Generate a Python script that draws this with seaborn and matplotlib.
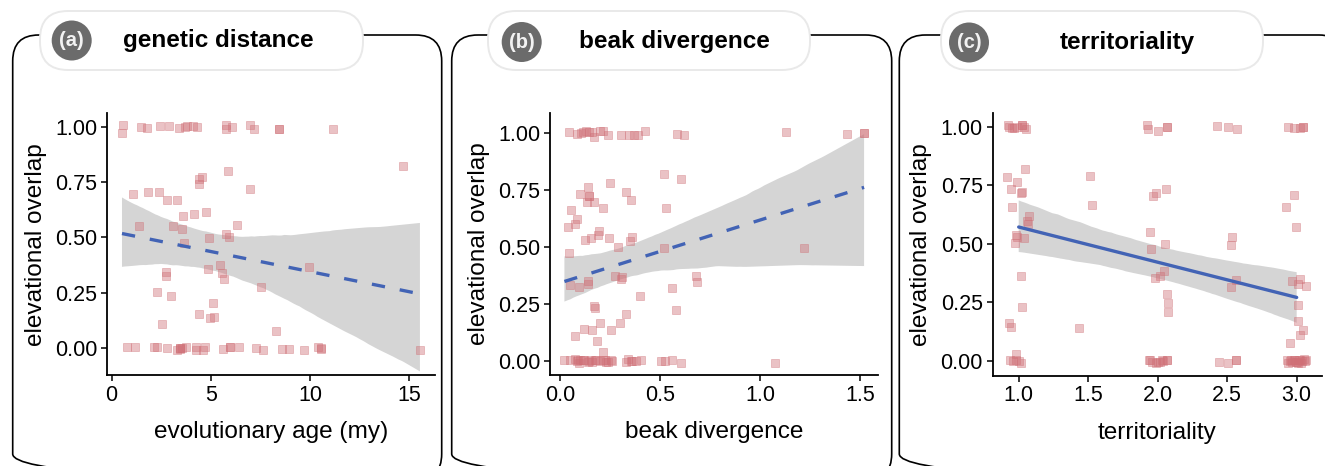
import numpy as np
import pandas as pd
import matplotlib
matplotlib.use("Agg")
import matplotlib.pyplot as plt
import seaborn as sns
from matplotlib.patches import FancyBboxPatch, Circle
from matplotlib.collections import PolyCollection

# ---------------- data ----------------
age_a = [0.55, 0.52, 1.48, 1.76, 2.43, 2.90, 3.39, 3.69, 3.81, 4.11, 4.30, 5.74, 5.74, 6.05, 6.97, 7.19, 8.43, 8.43, 11.17,
         14.68, 5.88, 4.57, 4.40, 4.40, 6.99, 1.07, 1.81, 2.40, 2.79, 3.29, 4.74, 4.15, 3.61, 1.39, 3.11, 3.54, 6.33, 5.74, 5.91,
         4.89, 3.66, 9.96, 5.46, 5.56, 5.66, 4.84, 2.72, 2.72, 7.52, 2.27, 2.99, 5.12, 4.42, 4.95, 5.14, 2.55, 8.30,
         0.77, 1.19, 2.15, 2.30, 2.79, 3.31, 3.44, 3.44, 3.44, 3.56, 3.74, 4.23, 4.23, 4.62, 4.69, 5.63, 5.98, 5.98, 6.43, 7.25,
         7.61, 8.60, 8.92, 9.71, 10.41, 10.55, 10.55, 15.53]
overlap_a = [1.006, 0.971, 1.0, 0.995, 1.003, 1.003, 0.992, 0.998, 1.003, 1.004, 0.998, 1.006, 0.988, 0.998, 1.006, 0.991, 0.989, 0.989, 0.989,
             0.824, 0.80, 0.773, 0.764, 0.74, 0.72, 0.694, 0.703, 0.707, 0.67, 0.67, 0.617, 0.607, 0.595, 0.551, 0.554, 0.538, 0.556, 0.515, 0.503,
             0.497, 0.474, 0.366, 0.375, 0.339, 0.311, 0.356, 0.344, 0.326, 0.279, 0.255, 0.236, 0.206, 0.153, 0.137, 0.141, 0.111, 0.08,
             0.008, 0.008, 0.008, 0.005, 0.003, -0.006, 0.0, 0.003, -0.004, 0.003, 0.008, 0.008, -0.009, -0.009, 0.008, -0.002, 0.008, 0.006, 0.006, 0.002,
             -0.009, -0.002, -0.005, -0.008, 0.005, -0.003, 0.0, -0.006]

beak_b = [0.044, 0.084, 0.104, 0.117, 0.129, 0.147, 0.159, 0.171, 0.201, 0.214, 0.240, 0.307, 0.343, 0.369, 0.389, 0.424, 0.585, 0.621, 1.127, 1.435, 1.519, 1.519,
          0.519, 0.606, 0.251, 0.142, 0.100, 0.146, 0.146, 0.137, 0.169, 0.332, 0.353, 0.054, 0.214, 0.531, 0.085, 0.077, 0.039, 0.196, 0.189, 0.154,
          0.124, 0.243, 0.362, 0.352, 0.290, 0.519, 1.221, 0.047, 0.275, 0.308, 0.307, 0.680, 0.685, 0.050, 0.094, 0.139, 0.139, 0.559, 0.399, 0.168,
          0.173, 0.332, 0.578, 0.201, 0.300, 0.122, 0.159, 0.256, 0.077, 0.186, 0.213,
          0.022, 0.050, 0.075, 0.087, 0.092, 0.097, 0.100, 0.117, 0.122, 0.139, 0.146, 0.156, 0.162, 0.176, 0.178, 0.201, 0.214, 0.226, 0.231, 0.238,
          0.255, 0.258, 0.328, 0.340, 0.357, 0.360, 0.382, 0.405, 0.506, 0.524, 0.558, 0.603, 1.075]
overlap_b = [1.007, 0.997, 1.0, 1.006, 1.008, 1.004, 1.004, 0.985, 1.009, 1.008, 0.991, 0.994, 0.994, 0.994, 0.994, 1.01, 0.997, 0.991, 1.006, 0.997, 1.0, 1.0,
             0.823, 0.80, 0.783, 0.762, 0.732, 0.723, 0.723, 0.699, 0.696, 0.742, 0.708, 0.663, 0.67, 0.67, 0.625, 0.60, 0.588, 0.573, 0.554, 0.54,
             0.531, 0.541, 0.543, 0.529, 0.499, 0.496, 0.496, 0.475, 0.374, 0.37, 0.359, 0.374, 0.349, 0.333, 0.326, 0.35, 0.34, 0.321, 0.286, 0.242,
             0.233, 0.207, 0.226, 0.169, 0.169, 0.142, 0.138, 0.135, 0.11, 0.089, 0.041,
             0.003, 0.007, 0.01, 0.0, 0.005, -0.007, 0.004, 0.003, 0.004, -0.006, 0.0, 0.004, -0.003, 0.006, 0.007, 0.0, 0.007, 0.006, -0.005, -0.004,
             0.005, 0.001, -0.006, 0.009, 0.0, 0.001, 0.001, 0.004, 0.0, -0.001, 0.003, -0.009, -0.009]

# territoriality: jittered positions as drawn (the fit uses the score levels 1, 1.5, 2, 2.5, 3)
terr_c = [0.921, 0.930, 0.950, 0.966, 0.990, 1.024, 1.024, 1.038, 1.055, 1.924, 1.932, 2.004, 2.066, 2.066, 2.424, 2.508, 2.573, 2.938, 2.983, 3.024, 3.048, 3.048,
          0.918, 0.990, 0.942, 1.014, 1.024, 1.043, 0.954, 1.072, 1.058, 1.067, 0.983, 0.990, 0.976, 1.036, 1.017, 1.024, 0.933, 0.942, 0.983,
          1.511, 1.528, 1.432,
          2.061, 1.965, 1.989, 1.944, 1.949, 2.052, 1.984, 2.018, 2.047, 2.068, 2.076, 2.076,
          2.537, 2.527, 2.525, 2.565,
          2.926, 2.978, 2.993, 2.969, 3.007, 3.024, 3.065, 3.012, 3.007, 3.048, 3.024, 2.952,
          0.935, 0.959, 0.983, 1.000, 1.017,
          1.936, 1.956, 1.987, 2.016, 2.040, 2.068, 2.068, 1.948, 2.001, 2.030,
          2.443, 2.508, 2.563, 2.563,
          2.930, 2.950, 2.969, 2.990, 3.007, 3.021, 3.038, 3.050, 3.065, 3.000,
          2.940, 2.960, 2.980, 2.998, 3.015, 3.030, 3.058]
overlap_c = [1.009, 1.0, 0.993, 0.996, 1.0, 1.006, 1.006, 1.0, 0.99, 1.007, 0.99, 0.98, 0.997, 0.997, 1.003, 0.997, 0.991, 1.0, 0.996, 0.993, 0.999, 0.999,
             0.786, 0.764, 0.734, 0.715, 0.721, 0.818, 0.657, 0.617, 0.598, 0.583, 0.538, 0.53, 0.504, 0.524, 0.362, 0.229, 0.164, 0.147, 0.031,
             0.791, 0.668, 0.14,
             0.736, 0.705, 0.715, 0.55, 0.48, 0.501, 0.355, 0.363, 0.382, 0.286, 0.246, 0.211,
             0.528, 0.493, 0.316, 0.346,
             0.657, 0.707, 0.57, 0.342, 0.328, 0.352, 0.322, 0.239, 0.171, 0.134, 0.111, 0.078,
             0.003, 0.0, 0.003, 0.0, -0.009,
             0.003, -0.003, -0.009, -0.004, 0.0, 0.003, 0.003, 0.006, -0.006, 0.002,
             -0.004, -0.009, 0.004, 0.004,
             0.003, 0.0, -0.004, 0.003, -0.007, 0.003, 0.0, 0.007, 0.003, -0.006,
             -0.008, 0.006, 0.002, -0.003, 0.004, -0.007, 0.001]
terr_level_c = list(np.round(np.array(terr_c) * 2) / 2)

badges = ["(a)", "(b)", "(c)"]
titles = ["genetic distance", "beak divergence", "territoriality"]
xlabels = ["evolutionary age (my)", "beak divergence", "territoriality"]
ylabel = "elevational overlap"
xticks_a = [0, 5, 10, 15]
xticklabels_a = ["0", "5", "10", "15"]
xticks_b = [0.0, 0.5, 1.0, 1.5]
xticklabels_b = ["0.0", "0.5", "1.0", "1.5"]
xticks_c = [1.0, 1.5, 2.0, 2.5, 3.0]
xticklabels_c = ["1.0", "1.5", "2.0", "2.5", "3.0"]
yticks = [0.0, 0.25, 0.5, 0.75, 1.0]
yticklabels = ["0.00", "0.25", "0.50", "0.75", "1.00"]

# ---------------- style ----------------
sns.set_theme(style="ticks")
plt.rcParams['font.family'] = ['Liberation Sans', 'DejaVu Sans']
plt.rcParams['text.color'] = 'black'
plt.rcParams['axes.labelcolor'] = 'black'
plt.rcParams['xtick.color'] = 'black'
plt.rcParams['ytick.color'] = 'black'

W, H = 1325, 466
fig = plt.figure(figsize=(W / 100, H / 100), dpi=100)


def px_axes(l, t, r, b, z=2):
    return fig.add_axes([l / W, 1 - b / H, (r - l) / W, (b - t) / H], zorder=z)


overlay = px_axes(0, 0, W, H, z=0)
overlay.set_xlim(0, W)
overlay.set_ylim(H, 0)
overlay.axis('off')

panel_boxes = [(12.7, 441.7), (451.7, 891.7), (899.3, 1345)]
pills = [(40, 363), (488, 810), (941, 1263)]
badge_xy = [(71.7, 40.5), (521.7, 42), (969, 42.5)]
title_xy = [(218, 40), (674.5, 41.5), (1127, 43)]

for (l, r) in panel_boxes:
    overlay.add_patch(FancyBboxPatch((l, 35), r - l, 445, boxstyle="round,pad=0,rounding_size=26",
                                     fc='none', ec='black', lw=1.2))
for (l, r), (bx, by), (tx, ty), bt, tt in zip(pills, badge_xy, title_xy, badges, titles):
    overlay.add_patch(FancyBboxPatch((l, 11), r - l, 59, boxstyle="round,pad=0,rounding_size=28",
                                     fc='white', ec='#e9e9e9', lw=1.4))
    overlay.add_patch(Circle((bx, by), 20, fc='#6b6b6b', ec='none'))
    overlay.text(bx, by + 0.5, bt, color='#f2f2f2', fontsize=14.5, fontweight='bold', ha='center', va='center')
    overlay.text(tx, ty, tt, color='black', fontsize=17.5, fontweight='bold', ha='center', va='center')

panels = [
    dict(x=age_a, fx=age_a, y=overlap_a, rect=(107.3, 113.3, 435, 375), xlim=(-0.22, 16.29), ylim=(-0.12, 1.06),
         xt=xticks_a, xtl=xticklabels_a, ls=(0, (4, 4.5)), xl=xlabels[0]),
    dict(x=beak_b, fx=beak_b, y=overlap_b, rect=(550, 112.7, 878.3, 375), xlim=(-0.05, 1.59), ylim=(-0.061, 1.09),
         xt=xticks_b, xtl=xticklabels_b, ls=(0, (4, 4.5)), xl=xlabels[1]),
    dict(x=terr_c, fx=terr_level_c, y=overlap_c, rect=(992.7, 112.7, 1321.7, 375.7), xlim=(0.813, 3.18), ylim=(-0.063, 1.06),
         xt=xticks_c, xtl=xticklabels_c, ls='-', xl=xlabels[2]),
]

for p in panels:
    ax = px_axes(*p["rect"], z=2)
    ax.set_facecolor('none')
    fit_df = pd.DataFrame({"x": p["fx"], "y": p["y"]})
    sns.regplot(data=fit_df, x="x", y="y", ax=ax, ci=95, seed=3, n_boot=1000, scatter=False,
                line_kws=dict(color='#4263b5', lw=2.4, linestyle=p["ls"], zorder=4))
    for coll in ax.collections:
        if isinstance(coll, PolyCollection):
            coll.set_facecolor('#d5d5d5')
            coll.set_edgecolor('none')
            coll.set_alpha(1.0)
            coll.set_zorder(1)
    pts = pd.DataFrame({"x": p["x"], "y": p["y"]})
    sns.scatterplot(data=pts, x="x", y="y", ax=ax, marker='s', s=30, color='#cf6f76', alpha=0.42,
                    edgecolor='#cf6f76', linewidth=0.6, zorder=2)
    ax.set_xlim(*p["xlim"])
    ax.set_ylim(*p["ylim"])
    ax.set_xticks(p["xt"])
    ax.set_xticklabels(p["xtl"])
    ax.set_yticks(yticks)
    ax.set_yticklabels(yticklabels)
    ax.set_xlabel(p["xl"], fontsize=17.6, labelpad=11)
    ax.set_ylabel(ylabel, fontsize=17.6, labelpad=6)
    ax.tick_params(labelsize=15.5, length=4, width=1.1, pad=3)
    for s in ["top", "right"]:
        ax.spines[s].set_visible(False)
    for s in ["left", "bottom"]:
        ax.spines[s].set_linewidth(1.3)
        ax.spines[s].set_color('black')

fig.savefig("out.png", dpi=100)
